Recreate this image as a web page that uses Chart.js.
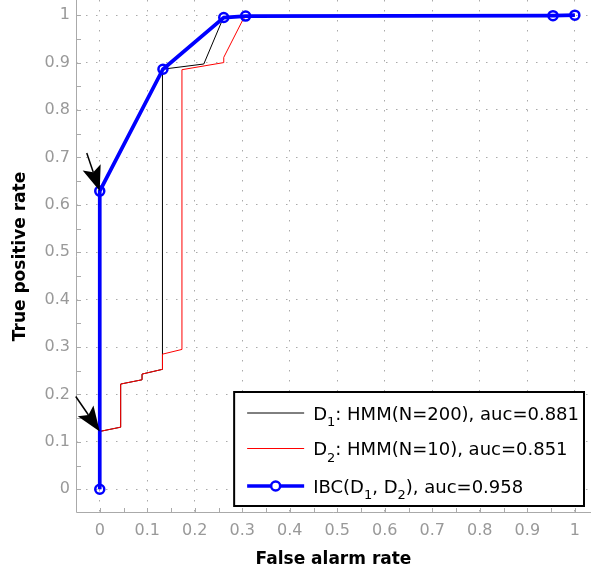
<!DOCTYPE html>
<html>
<head>
<meta charset="utf-8">
<script src="https://cdn.jsdelivr.net/npm/chart.js@4.4.0/dist/chart.umd.min.js"></script>
<style>
  html, body { margin: 0; padding: 0; background: #fff; }
  #wrap { width: 591px; height: 571px; }
</style>
</head>
<body>
<div id="wrap"><canvas id="roc" width="591" height="571"></canvas></div>
<script>
// axis ticks (same for both axes)
const TICK_VALUES = [0, 0.1, 0.2, 0.3, 0.4, 0.5, 0.6, 0.7, 0.8, 0.9, 1];
const TICK_LABELS = ['0', '0.1', '0.2', '0.3', '0.4', '0.5', '0.6', '0.7', '0.8', '0.9', '1'];
const X_MIN = -0.05, X_MAX = 1.034;
const Y_MIN = -0.05, Y_MAX = 1.032;

// D1: HMM(N=200)
const D1_FA = [0, 0, 0.044, 0.044, 0.089, 0.089, 0.132, 0.132, 0.219, 0.256, 0.261, 0.307, 0.955, 1];
const D1_TP = [0, 0.122, 0.131, 0.222, 0.231, 0.243, 0.253, 0.886, 0.897, 0.985, 0.995, 0.998, 0.999, 1];

// D2: HMM(N=10)
const D2_FA = [0, 0, 0.044, 0.044, 0.089, 0.089, 0.132, 0.132, 0.173, 0.173, 0.261, 0.261, 0.300, 0.307, 1];
const D2_TP = [0, 0.122, 0.131, 0.222, 0.231, 0.243, 0.253, 0.285, 0.295, 0.885, 0.900, 0.911, 0.988, 0.998, 1];

// IBC(D1, D2)
const IBC_FA = [0, 0, 0.133, 0.261, 0.307, 0.954, 1];
const IBC_TP = [0, 0.629, 0.886, 0.995, 0.998, 0.999, 1];

// legend text, "_n" = subscript
const SERIES_LABELS = [
  'D_1: HMM(N=200), auc=0.881',
  'D_2: HMM(N=10), auc=0.851',
  'IBC(D_1, D_2), auc=0.958'
];

// arrow annotations pointing at the IBC curve
const ARROW_FA = [0, 0];
const ARROW_TP = [0.629, 0.122];

const toXY = (xs, ys) => xs.map((x, i) => ({ x, y: ys[i] }));

const FONT = 'DejaVu Sans';
const GRAY = '#999';

// axis lines + inward minor/major ticks, matlab style
const axesPlugin = {
  id: 'axesLines',
  beforeDatasetsDraw(chart) {
    const { ctx, chartArea: a, scales: { x, y } } = chart;
    const minor = TICK_VALUES.slice(1).map((v, i) => (v + TICK_VALUES[i]) / 2);
    const all = TICK_VALUES.concat(minor);
    ctx.save();
    ctx.strokeStyle = '#aaa';
    ctx.lineWidth = 1;
    ctx.beginPath();
    ctx.moveTo(a.left + 0.5, a.top);
    ctx.lineTo(a.left + 0.5, a.bottom - 0.5);
    ctx.lineTo(a.right, a.bottom - 0.5);
    for (const v of all) {
      const px = Math.round(x.getPixelForValue(v)) + 0.5;
      ctx.moveTo(px, a.bottom);
      ctx.lineTo(px, a.bottom - 5);
      const py = Math.round(y.getPixelForValue(v)) + 0.5;
      ctx.moveTo(a.left, py);
      ctx.lineTo(a.left + 5, py);
    }
    ctx.stroke();
    ctx.restore();
  }
};

const arrowPlugin = {
  id: 'arrows',
  afterDatasetsDraw(chart) {
    const { ctx, scales: { x, y } } = chart;
    const tails = [[-13, -38], [-24, -35]];
    ctx.save();
    ctx.fillStyle = '#000';
    ctx.strokeStyle = '#000';
    ctx.lineWidth = 1.5;
    ARROW_FA.forEach((fa, i) => {
      const tx = x.getPixelForValue(fa), ty = y.getPixelForValue(ARROW_TP[i]);
      const sx = tx + tails[i][0], sy = ty + tails[i][1];
      const len = Math.hypot(tx - sx, ty - sy);
      const ux = (tx - sx) / len, uy = (ty - sy) / len;
      const hl = 25, hw = 9.5, notch = 20;
      const bx = tx - ux * hl, by = ty - uy * hl;
      ctx.beginPath();
      ctx.moveTo(sx, sy);
      ctx.lineTo(tx - ux * notch, ty - uy * notch);
      ctx.stroke();
      ctx.beginPath();
      ctx.moveTo(tx, ty);
      ctx.lineTo(bx - uy * hw, by + ux * hw);
      ctx.lineTo(tx - ux * notch, ty - uy * notch);
      ctx.lineTo(bx + uy * hw, by - ux * hw);
      ctx.closePath();
      ctx.fill();
    });
    ctx.restore();
  }
};

// boxed legend with subscripts, lower right of the axes
const legendPlugin = {
  id: 'subLegend',
  afterDraw(chart) {
    const { ctx, chartArea: a } = chart;
    const mainFont = '18px "' + FONT + '"';
    const subFont = '13px "' + FONT + '"';
    const parts = SERIES_LABELS.map(s => s.split(/_(\d)/));
    ctx.save();
    const widthOf = p => p.reduce((w, t, k) => {
      ctx.font = k % 2 ? subFont : mainFont;
      return w + ctx.measureText(t).width;
    }, 0);
    const textW = Math.max(...parts.map(widthOf));
    const padL = 13, sample = 57, gap = 9, padR = 5;
    const boxW = padL + sample + gap + textW + padR, boxH = 114;
    const bx = a.right - 7 - boxW, by = a.bottom - 7 - boxH;
    ctx.fillStyle = '#fff';
    ctx.fillRect(bx, by, boxW, boxH);
    ctx.strokeStyle = '#000';
    ctx.lineWidth = 2;
    ctx.strokeRect(bx, by, boxW, boxH);
    const rows = [21, 56.5, 94];
    chart.data.datasets.forEach((ds, i) => {
      const cy = by + rows[i];
      const x0 = bx + padL;
      ctx.strokeStyle = ds.borderColor;
      ctx.lineWidth = ds.borderWidth;
      ctx.beginPath();
      ctx.moveTo(x0, cy);
      ctx.lineTo(x0 + sample, cy);
      ctx.stroke();
      if (ds.pointRadius > 0) {
        ctx.lineWidth = ds.pointBorderWidth;
        ctx.beginPath();
        ctx.arc(x0 + sample / 2, cy, ds.pointRadius, 0, Math.PI * 2);
        ctx.fillStyle = '#fff';
        ctx.fill();
        ctx.stroke();
      }
      let tx = x0 + sample + gap;
      ctx.fillStyle = '#000';
      ctx.textBaseline = 'alphabetic';
      parts[i].forEach((t, k) => {
        ctx.font = k % 2 ? subFont : mainFont;
        ctx.fillText(t, tx, cy + (k % 2 ? 13 : 6.5));
        tx += ctx.measureText(t).width;
      });
    });
    ctx.restore();
  }
};

const axisCommon = (title, titlePad) => ({
  type: 'linear',
  grid: { color: '#aaa', lineWidth: 1, drawTicks: false },
  border: { display: false, dash: [1.5, 8.5] },
  ticks: {
    color: GRAY,
    font: { family: FONT, size: 16 },
    autoSkip: false,
    maxRotation: 0,
    callback: v => TICK_LABELS[TICK_VALUES.indexOf(v)]
  },
  afterBuildTicks: s => { s.ticks = TICK_VALUES.map(v => ({ value: v })); },
  title: {
    display: true,
    text: title,
    color: '#000',
    font: { family: FONT, size: 17, weight: 'bold' },
    padding: titlePad
  }
});

const xAxis = axisCommon('False alarm rate', { top: 0, bottom: 1 });
xAxis.min = X_MIN; xAxis.max = X_MAX;
xAxis.ticks.padding = 8;
xAxis.afterFit = s => { s.height = 58; s.paddingLeft = 0; s.paddingRight = 0; };

const yAxis = axisCommon('True positive rate', { top: 10, bottom: 0 });
yAxis.min = Y_MIN; yAxis.max = Y_MAX;
yAxis.ticks.padding = 6;
yAxis.afterFit = s => { s.width = 76; s.paddingTop = 0; s.paddingBottom = 0; };

new Chart(document.getElementById('roc'), {
  type: 'scatter',
  data: {
    datasets: [
      { label: SERIES_LABELS[0], data: toXY(D1_FA, D1_TP), showLine: true, borderColor: '#000', borderWidth: 1, pointRadius: 0, order: 2 },
      { label: SERIES_LABELS[1], data: toXY(D2_FA, D2_TP), showLine: true, borderColor: '#ff0000', borderWidth: 1, pointRadius: 0, order: 1 },
      { label: SERIES_LABELS[2], data: toXY(IBC_FA, IBC_TP), showLine: true, borderColor: '#0000ff', borderWidth: 3.7,
        pointRadius: 4.5, pointBorderWidth: 2.5, pointBackgroundColor: 'rgba(0,0,0,0)', pointBorderColor: '#0000ff', order: 0 }
    ]
  },
  options: {
    responsive: false,
    animation: false,
    events: [],
    layout: { padding: 0, autoPadding: false },
    plugins: { legend: { display: false }, tooltip: { enabled: false } },
    scales: { x: xAxis, y: yAxis }
  },
  plugins: [axesPlugin, arrowPlugin, legendPlugin]
});
</script>
</body>
</html>
